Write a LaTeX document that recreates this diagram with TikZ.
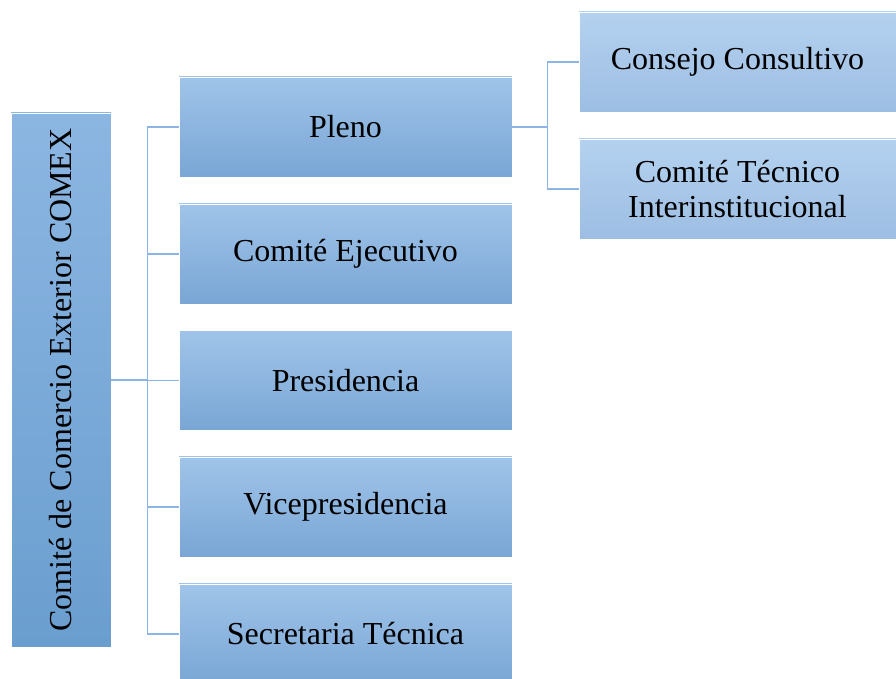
\documentclass[tikz,border=0pt]{standalone}
\usepackage{fontspec}
\setmainfont{Liberation Serif}

\definecolor{cajaarriba}{HTML}{A0C4E9}
\definecolor{cajaabajo}{HTML}{79A6D5}
\definecolor{ladoarriba}{HTML}{8CB6E2}
\definecolor{ladoabajo}{HTML}{6A9ECF}
\definecolor{derarriba}{HTML}{B4D1EF}
\definecolor{derabajo}{HTML}{9DBEE3}
\definecolor{linea}{HTML}{8EB4E3}

\begin{document}
\begin{tikzpicture}[x=0.5pt, y=-0.5pt,
	caja/.style={draw=white, line width=0.4pt, top color=cajaarriba, bottom color=cajaabajo,
		minimum width=166.5pt, minimum height=50pt, inner sep=2pt, align=center,
		font=\fontsize{16}{17.5}\selectfont},
	cajader/.style={caja, top color=derarriba, bottom color=derabajo, minimum width=158.5pt},
	conector/.style={draw=linea, line width=0.6pt}]
					% marco
					\useasboundingbox (0,0) rectangle (896,679);
					
					% cajas
					\node[caja, top color=ladoarriba, bottom color=ladoabajo, minimum width=50pt, minimum height=267pt]
						(comex) at (61,380) {\rotatebox{90}{Comité de Comercio Exterior COMEX}};
					\node[caja] (pleno) at (345.5,127) {Pleno};
					\node[caja] (ejecutivo) at (345.5,254) {Comité Ejecutivo};
					\node[caja] (presidencia) at (345.5,380.5) {Presidencia};
					\node[caja] (vice) at (345.5,507) {Vicepresidencia};
					\node[caja] (secretaria) at (345.5,634) {Secretaria Técnica};
					\node[cajader] (consejo) at (737.5,62) {Consejo Consultivo};
					\node[cajader] (tecnico) at (737.5,189) {Comité Técnico\\Interinstitucional};
					
					% conectores
					\draw[conector] (comex.east) -- ++(36,0) coordinate (bus);
					\draw[conector] (bus |- pleno.west) -- (bus |- secretaria.west);
					\foreach \n in {pleno, ejecutivo, presidencia, vice, secretaria}
						\draw[conector] (bus |- \n.west) -- (\n.west);
					\draw[conector] (pleno.east) -- ++(35,0) coordinate (bus2);
					\draw[conector] (bus2 |- consejo.west) -- (bus2 |- tecnico.west);
					\foreach \n in {consejo, tecnico}
						\draw[conector] (bus2 |- \n.west) -- (\n.west);
\end{tikzpicture}
\end{document}
